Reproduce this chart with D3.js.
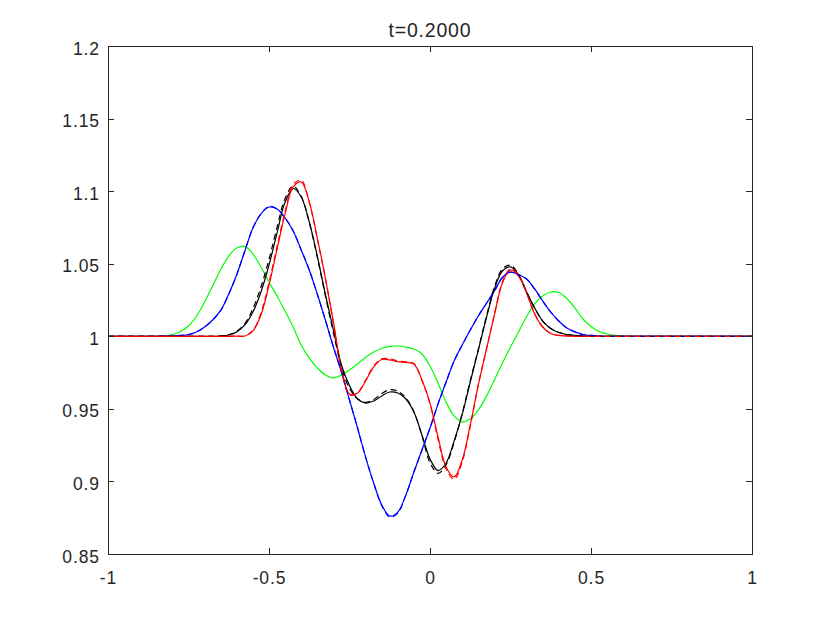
<!DOCTYPE html>
<html>
<head>
<meta charset="utf-8">
<script src="https://cdn.jsdelivr.net/npm/d3@7"></script>
<style>
  html, body { margin: 0; padding: 0; background: #fff; }
  svg { display: block; }
  .axis text { font-family: "Liberation Sans", Arial, sans-serif; font-size: 17.5px; letter-spacing: 0.9px; fill: #262626; }
  .axis line, .axis path { stroke: #262626; stroke-width: 1; shape-rendering: crispEdges; }
  .title { font-family: "Liberation Sans", Arial, sans-serif; font-size: 19.5px; letter-spacing: 0.8px; fill: #262626; }
</style>
</head>
<body>
<svg id="chart" width="830" height="623"></svg>
<script>
const titleText = "t=0.2000";
const xTicks = [-1, -0.5, 0, 0.5, 1];
const xTickLabels = ["-1", "-0.5", "0", "0.5", "1"];
const yTicks = [0.85, 0.9, 0.95, 1, 1.05, 1.1, 1.15, 1.2];
const yTickLabels = ["0.85", "0.9", "0.95", "1", "1.05", "1.1", "1.15", "1.2"];

const xs = [-1, -0.9, -0.85, -0.825, -0.8, -0.775, -0.75, -0.725, -0.7, -0.675,
  -0.65, -0.625, -0.6, -0.575, -0.55, -0.525, -0.5, -0.475, -0.45, -0.425,
  -0.4, -0.375, -0.35, -0.325, -0.3, -0.275, -0.25, -0.225, -0.2, -0.175,
  -0.15, -0.125, -0.1, -0.075, -0.05, -0.025, 0, 0.025, 0.05, 0.075,
  0.1, 0.125, 0.15, 0.175, 0.2, 0.225, 0.25, 0.275, 0.3, 0.325,
  0.35, 0.375, 0.4, 0.425, 0.45, 0.475, 0.5, 0.525, 0.55, 0.575,
  0.6, 0.625, 0.65, 0.75, 1];

const greenSolid = [1, 1, 1, 1.0003, 1.0012, 1.0033, 1.0071, 1.014, 1.0236, 1.0347,
  1.046, 1.0553, 1.0608, 1.0619, 1.0567, 1.0477, 1.0374, 1.0278, 1.0174, 1.0064,
  0.994, 0.985, 0.9782, 0.9733, 0.9713, 0.9733, 0.9768, 0.9809, 0.9854, 0.9892,
  0.9916, 0.993, 0.9933, 0.9926, 0.9912, 0.9878, 0.9795, 0.9678, 0.9547, 0.9451,
  0.941, 0.943, 0.9492, 0.9585, 0.9699, 0.9816, 0.9926, 1.003, 1.0136, 1.0223,
  1.0278, 1.0305, 1.0302, 1.026, 1.0195, 1.0119, 1.0068, 1.0033, 1.0016, 1.0006,
  1.0002, 1, 1, 1, 1];

const blueSolid = [1, 1, 1, 1.0001, 1.0002, 1.0006, 1.0012, 1.003, 1.0064, 1.0112,
  1.0178, 1.0291, 1.0426, 1.0588, 1.0746, 1.0843, 1.0891, 1.0877, 1.0815, 1.0726,
  1.0595, 1.0457, 1.0291, 1.0112, 0.9926, 0.9754, 0.9561, 0.9368, 0.9168, 0.8989,
  0.8838, 0.8762, 0.8789, 0.8906, 0.9065, 0.9217, 0.9368, 0.9534, 0.9685, 0.983,
  0.994, 1.0043, 1.014, 1.0226, 1.0312, 1.0405, 1.0442, 1.0425, 1.0395, 1.0326,
  1.0243, 1.0167, 1.0105, 1.0057, 1.003, 1.0012, 1.0006, 1.0002, 1, 1,
  1, 1, 1, 1, 1];

const blueDashed = [1, 1, 1, 1.0001, 1.0002, 1.0006, 1.0012, 1.003, 1.0064, 1.0112,
  1.0178, 1.0291, 1.0426, 1.0588, 1.0746, 1.0843, 1.0895, 1.0877, 1.0815, 1.0726,
  1.0595, 1.0457, 1.0291, 1.0112, 0.9926, 0.9754, 0.9561, 0.9368, 0.9168, 0.8989,
  0.8835, 0.8755, 0.8782, 0.8906, 0.9065, 0.9217, 0.9368, 0.9534, 0.9685, 0.983,
  0.994, 1.0043, 1.014, 1.0226, 1.0312, 1.0405, 1.0442, 1.0425, 1.0395, 1.0326,
  1.0243, 1.0167, 1.0105, 1.0057, 1.003, 1.0012, 1.0006, 1.0002, 1, 1,
  1, 1, 1, 1, 1];

const blackSolid = [1, 1, 1, 1, 1, 1, 1, 1, 1, 1,
  1.0002, 1.0009, 1.003, 1.0078, 1.0167, 1.0305, 1.0491, 1.0712, 1.0925, 1.1018,
  1.096, 1.0788, 1.0553, 1.0291, 1.0043, 0.9802, 0.966, 0.9568, 0.954, 0.9554,
  0.9589, 0.9616, 0.9609, 0.9568, 0.9478, 0.932, 0.9155, 0.9075, 0.9127, 0.9279,
  0.9462, 0.9685, 0.9904, 1.0126, 1.0326, 1.045, 1.0478, 1.0423, 1.0305, 1.0195,
  1.0105, 1.0054, 1.0026, 1.0012, 1.0006, 1.0002, 1, 1, 1, 1,
  1, 1, 1, 1, 1];

const blackDashed = [1, 1, 1, 1, 1, 1, 1, 1, 1, 1,
  1.0003, 1.0011, 1.0035, 1.0088, 1.019, 1.034, 1.053, 1.075, 1.095, 1.1035,
  1.0965, 1.0785, 1.0545, 1.028, 1.0025, 0.979, 0.964, 0.957, 0.9545, 0.9565,
  0.9605, 0.9632, 0.9622, 0.9575, 0.948, 0.9315, 0.913, 0.9055, 0.9115, 0.927,
  0.947, 0.9695, 0.991, 1.0135, 1.034, 1.0465, 1.049, 1.0425, 1.0305, 1.0195,
  1.0105, 1.0054, 1.0026, 1.0012, 1.0006, 1.0002, 1, 1, 1, 1,
  1, 1, 1, 1, 1];

const redSolid = [1, 1, 1, 1, 1, 1, 1, 1, 1, 1,
  1, 1, 1.0001, 1.0002, 1.0037, 1.0147, 1.0353, 1.0601, 1.0843, 1.1029,
  1.1063, 1.0925, 1.0677, 1.0402, 1.0099, 0.9775, 0.9602, 0.9609, 0.9692, 0.9788,
  0.984, 0.9837, 0.9825, 0.982, 0.9809, 0.9699, 0.954, 0.9306, 0.91, 0.9031,
  0.9148, 0.9389, 0.9664, 0.9906, 1.0147, 1.0367, 1.0457, 1.0415, 1.0298, 1.0154,
  1.0064, 1.0019, 1.0006, 1.0002, 1, 1, 1, 1, 1, 1,
  1, 1, 1, 1, 1];

const redDashed = [1, 1, 1, 1, 1, 1, 1, 1, 1, 1,
  1, 1, 1.0001, 1.0003, 1.004, 1.016, 1.037, 1.062, 1.086, 1.1045,
  1.1075, 1.0925, 1.067, 1.04, 1.0092, 0.9765, 0.9595, 0.961, 0.9697, 0.9795,
  0.9845, 0.9845, 0.983, 0.9825, 0.9812, 0.9695, 0.9535, 0.929, 0.9085, 0.9015,
  0.9135, 0.938, 0.9665, 0.991, 1.015, 1.0375, 1.0465, 1.042, 1.0298, 1.0154,
  1.0064, 1.0019, 1.0006, 1.0002, 1, 1, 1, 1, 1, 1,
  1, 1, 1, 1, 1];

// draw order: solids first, dashed comparisons on top
const series = [
  {values: greenSolid, color: "#00ff00", dash: null},
  {values: blueSolid, color: "#0000ff", dash: null},
  {values: blackSolid, color: "#000000", dash: null},
  {values: redSolid, color: "#ff0000", dash: null},
  {values: blueDashed, color: "#0000ff", dash: "6,4"},
  {values: blackDashed, color: "#000000", dash: "6,4"},
  {values: redDashed, color: "#ff0000", dash: "6,4"}
];

const svg = d3.select("#chart");
const margin = {left: 108, right: 78, top: 46, bottom: 69};
const width = +svg.attr("width");
const height = +svg.attr("height");

const scale_x = d3.scaleLinear().domain([-1, 1]).range([margin.left, width - margin.right]);
const scale_y = d3.scaleLinear().domain([0.85, 1.2]).range([height - margin.bottom, margin.top]);

const line = d3.line()
  .x(d => scale_x(d[0]))
  .y(d => scale_y(d[1]))
  .curve(d3.curveCatmullRom.alpha(0.5));

svg.append("g")
  .selectAll("path")
  .data(series)
  .join("path")
    .attr("fill", "none")
    .attr("stroke", d => d.color)
    .attr("stroke-width", 1.2)
    .attr("stroke-linejoin", "round")
    .attr("stroke-dasharray", d => d.dash)
    .attr("d", d => line(xs.map((x, i) => [x, d.values[i]])));

// axes with inward ticks on all four sides (box on)
const tick = 6;
svg.append("g")
  .attr("class", "axis")
  .attr("transform", `translate(0,${height - margin.bottom})`)
  .call(d3.axisBottom(scale_x).tickValues(xTicks).tickSizeInner(-tick).tickSizeOuter(0)
    .tickFormat((d, i) => xTickLabels[i]))
  .call(g => g.selectAll(".tick text").attr("y", 30).attr("dy", null));

svg.append("g")
  .attr("class", "axis")
  .attr("transform", `translate(0,${margin.top})`)
  .call(d3.axisTop(scale_x).tickValues(xTicks).tickSizeInner(-tick).tickSizeOuter(0).tickFormat(""));

svg.append("g")
  .attr("class", "axis")
  .attr("transform", `translate(${margin.left},0)`)
  .call(d3.axisLeft(scale_y).tickValues(yTicks).tickSizeInner(-tick).tickSizeOuter(0)
    .tickFormat((d, i) => yTickLabels[i]))
  .call(g => g.selectAll(".tick text").attr("x", -8).attr("y", 8).attr("dy", null));

svg.append("g")
  .attr("class", "axis")
  .attr("transform", `translate(${width - margin.right},0)`)
  .call(d3.axisRight(scale_y).tickValues(yTicks).tickSizeInner(-tick).tickSizeOuter(0).tickFormat(""));

svg.append("text")
  .attr("class", "title")
  .attr("x", (margin.left + width - margin.right) / 2)
  .attr("y", 37)
  .attr("text-anchor", "middle")
  .text(titleText);
</script>
</body>
</html>
